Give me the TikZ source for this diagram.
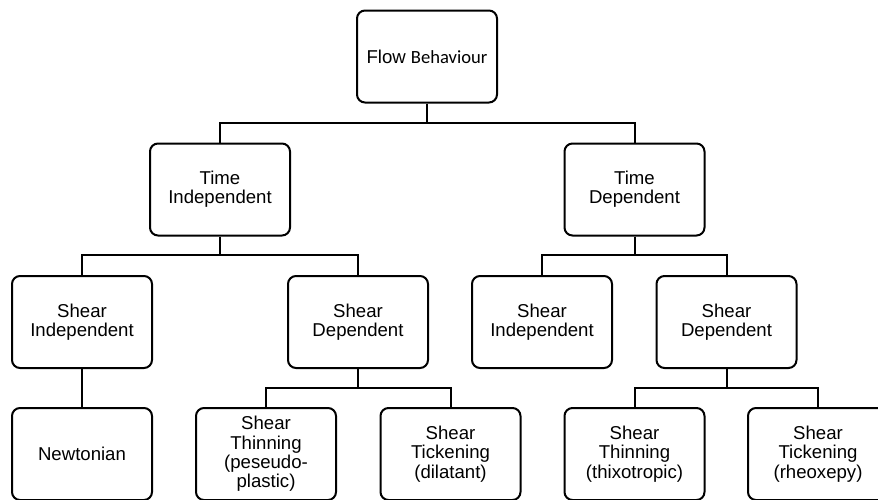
\documentclass[tikz,border=0pt]{standalone}
\usepackage{fontspec}
\setmainfont{Liberation Sans}
\newfontfamily\calibfont{Carlito}

\tikzset{
  flowbox/.style={draw, line width=2pt, rounded corners=8pt, align=center,
    minimum width=140pt, minimum height=92pt, inner sep=2pt,
    font=\fontsize{18.6}{19.3}\selectfont},
  link/.style={line width=2pt},
}

\begin{document}
\begin{tikzpicture}[x=1pt,y=1pt,yscale=-1]
\useasboundingbox (0,0) rectangle (878,499);
\clip (0,0) rectangle (878,499);

% top
\node[flowbox] (flow) at (427,56.5) {Flow {\calibfont Behaviour}};

% time
\node[flowbox] (timeind) at (220,189.5) {Time\\Independent};
\node[flowbox] (timedep) at (634.5,189.5) {Time\\Dependent};

% shear
\node[flowbox] (shindl) at (82,322) {Shear\\Independent};
\node[flowbox] (shdepl) at (358,322) {Shear\\Dependent};
\node[flowbox] (shindr) at (542,322) {Shear\\Independent};
\node[flowbox] (shdepr) at (726.5,322) {Shear\\Dependent};

% bottom row
\node[flowbox] (newton) at (82,454) {Newtonian};
\node[flowbox] (thinl) at (266,454) {Shear\\Thinning\\(peseudo-\\plastic)};
\node[flowbox] (thickl) at (450.5,454) {Shear\\Tickening\\(dilatant)};
\node[flowbox] (thinr) at (634.5,454) {Shear\\Thinning\\(thixotropic)};
\node[flowbox] (thickr) at (818,454) {Shear\\Tickening\\(rheoxepy)};

% connectors
\draw[link] (flow.south) -- ++(0,19.5) -| (timeind.north);
\draw[link] (flow.south) -- ++(0,19.5) -| (timedep.north);
\draw[link] (timeind.south) -- ++(0,18.5) -| (shindl.north);
\draw[link] (timeind.south) -- ++(0,18.5) -| (shdepl.north);
\draw[link] (timedep.south) -- ++(0,18.5) -| (shindr.north);
\draw[link] (timedep.south) -- ++(0,18.5) -| (shdepr.north);
\draw[link] (shindl.south) -- (newton.north);
\draw[link] (shdepl.south) -- ++(0,19) -| (thinl.north);
\draw[link] (shdepl.south) -- ++(0,19) -| (thickl.north);
\draw[link] (shdepr.south) -- ++(0,19) -| (thinr.north);
\draw[link] (shdepr.south) -- ++(0,19) -| (thickr.north);

\end{tikzpicture}
\end{document}
